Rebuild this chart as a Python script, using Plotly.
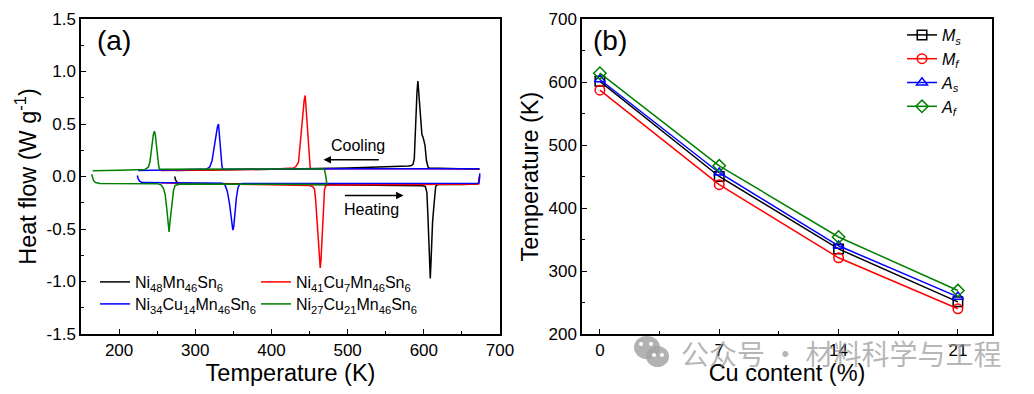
import plotly.graph_objects as go

W, H = 1034, 394
OFF = 8  # page body margin in the browser
FONT = "Liberation Sans, Arial, sans-serif"

# ---------------- Panel (a) data: DSC curves (T in K, heat flow in W/g) ----------------
ni48_heat_T = [273, 274, 276, 280, 350, 450, 550, 590, 598, 602, 604, 605.5, 607, 608.5, 609.5, 610.5, 611.5, 613, 614, 615.5, 617, 620, 650, 670, 672, 673]
ni48_heat_hf = [0.0, -0.03, -0.055, -0.065, -0.07, -0.075, -0.08, -0.085, -0.088, -0.095, -0.15, -0.4, -0.75, -0.97, -0.8, -0.55, -0.43, -0.3, -0.2, -0.1, -0.08, -0.077, -0.075, -0.072, -0.06, 0.0]
ni48_cool_T = [673, 640, 612, 607, 605.5, 603.5, 601.5, 600, 599, 597.5, 596, 594, 592.2, 591, 590, 588.5, 587.5, 586, 584, 580, 560, 540, 500, 400, 300, 274]
ni48_cool_hf = [0.07, 0.073, 0.075, 0.08, 0.09, 0.15, 0.3, 0.36, 0.375, 0.4, 0.55, 0.78, 0.91, 0.8, 0.62, 0.35, 0.17, 0.12, 0.105, 0.1, 0.095, 0.09, 0.082, 0.07, 0.062, 0.058]

cu7_heat_T = [255, 300, 400, 450, 454, 456.5, 458, 459.6, 461.5, 463, 464, 465, 466.5, 467.5, 468.5, 469.6, 471, 475, 600, 672, 673]
cu7_heat_hf = [-0.06, -0.07, -0.078, -0.085, -0.095, -0.12, -0.22, -0.39, -0.62, -0.8, -0.87, -0.8, -0.58, -0.39, -0.25, -0.13, -0.09, -0.08, -0.075, -0.072, 0.0]
cu7_cool_T = [673, 500, 455, 451.5, 450.8, 450, 449.5, 448.5, 447.8, 446, 444.3, 443, 441.5, 440, 438, 435.5, 432, 429, 400, 300, 255]
cu7_cool_hf = [0.075, 0.072, 0.07, 0.075, 0.09, 0.18, 0.26, 0.33, 0.44, 0.65, 0.772, 0.73, 0.6, 0.47, 0.3, 0.136, 0.095, 0.08, 0.068, 0.062, 0.058]

cu14_heat_T = [224, 225, 227, 230, 300, 335, 339, 342, 345, 347, 349.3, 350.5, 352, 354, 356, 358, 362, 500, 600, 670, 672, 673, 673.5]
cu14_heat_hf = [0.01, -0.02, -0.045, -0.058, -0.062, -0.065, -0.08, -0.14, -0.26, -0.4, -0.51, -0.48, -0.35, -0.2, -0.11, -0.075, -0.066, -0.068, -0.07, -0.072, -0.065, -0.03, 0.03]
cu14_cool_T = [673, 600, 500, 400, 345, 336, 335, 334, 333, 332, 330.5, 329, 327, 325, 322, 319, 315, 280, 240, 225]
cu14_cool_hf = [0.075, 0.076, 0.074, 0.07, 0.068, 0.07, 0.1, 0.2, 0.33, 0.44, 0.5, 0.47, 0.38, 0.26, 0.15, 0.09, 0.072, 0.065, 0.06, 0.058]

cu21_heat_T = [164, 165, 166.5, 169, 175, 250, 255, 258, 260.5, 262.5, 264.5, 265.6, 267, 268.5, 270, 271.5, 273.5, 280, 400, 472.7, 471.5, 469.5]
cu21_heat_hf = [0.022, -0.01, -0.04, -0.058, -0.066, -0.068, -0.08, -0.11, -0.17, -0.3, -0.47, -0.527, -0.42, -0.3, -0.22, -0.13, -0.085, -0.072, -0.074, -0.076, 0.0, 0.066]
cu21_cool_T = [469.5, 400, 300, 256, 253, 252, 251, 250.3, 249, 247.5, 246.3, 245, 242.8, 240.5, 238.5, 234, 200, 165.3]
cu21_cool_hf = [0.072, 0.07, 0.068, 0.067, 0.07, 0.1, 0.2, 0.235, 0.3, 0.4, 0.432, 0.4, 0.25, 0.14, 0.09, 0.067, 0.06, 0.054]

dsc_names = ["Ni<sub>48</sub>Mn<sub>46</sub>Sn<sub>6</sub>",
             "Ni<sub>41</sub>Cu<sub>7</sub>Mn<sub>46</sub>Sn<sub>6</sub>",
             "Ni<sub>34</sub>Cu<sub>14</sub>Mn<sub>46</sub>Sn<sub>6</sub>",
             "Ni<sub>27</sub>Cu<sub>21</sub>Mn<sub>46</sub>Sn<sub>6</sub>"]
dsc_colors = ["#000000", "#ff0000", "#0000ff", "#008000"]

a_yticks = [-1.5, -1.0, -0.5, 0.0, 0.5, 1.0, 1.5]
a_yticktext = ["-1.5", "-1.0", "-0.5", "0.0", "0.5", "1.0", "1.5"]

# ---------------- Panel (b) data ----------------
cu_content = [0, 7, 14, 21]
Ms = [601, 450, 335, 251]
Mf = [587, 437, 321, 240]
As = [604, 456, 340, 259]
Af = [614, 467, 354, 269]
b_names = ["<i>M</i><sub><i>s</i></sub>", "<i>M</i><sub><i>f</i></sub>",
           "<i>A</i><sub><i>s</i></sub>", "<i>A</i><sub><i>f</i></sub>"]
b_colors = ["#000000", "#ff0000", "#0000ff", "#008000"]
b_symbols = ["square-open", "circle-open", "triangle-up-open", "diamond-open"]

fig = go.Figure()

curves = [
    (ni48_heat_T, ni48_heat_hf, ni48_cool_T, ni48_cool_hf, "legend2"),
    (cu7_heat_T, cu7_heat_hf, cu7_cool_T, cu7_cool_hf, "legend2"),
    (cu14_heat_T, cu14_heat_hf, cu14_cool_T, cu14_cool_hf, "legend3"),
    (cu21_heat_T, cu21_heat_hf, cu21_cool_T, cu21_cool_hf, "legend3"),
]
for (hT, hY, cT, cY, lg), name, col in zip(curves, dsc_names, dsc_colors):
    fig.add_trace(go.Scatter(
        x=hT + [None] + cT, y=hY + [None] + cY, mode="lines",
        line=dict(color=col, width=1.5), name=name, legend=lg,
        xaxis="x", yaxis="y", connectgaps=False))

for vals, name, col, sym in zip([Ms, Mf, As, Af], b_names, b_colors, b_symbols):
    fig.add_trace(go.Scatter(
        x=cu_content, y=vals, mode="lines+markers", name=name, legend="legend",
        line=dict(color=col, width=1.5),
        marker=dict(symbol=sym, size=9.5, color=col, line=dict(color=col, width=1.5)),
        xaxis="x2", yaxis="y2"))

def px_x(p):
    return (p - OFF) / W

def px_y(p):
    return 1 - (p - OFF) / H

axis_common = dict(showline=True, linecolor="black", linewidth=1.5, mirror=True,
                   ticks="inside", ticklen=5, tickwidth=1.3, tickcolor="black",
                   showgrid=False, zeroline=False,
                   tickfont=dict(family=FONT, size=17, color="black"),
                   automargin=False)
title_font = dict(size=23.5, family=FONT, color="black")

fig.update_layout(
    width=W, height=H, margin=dict(l=0, r=0, t=0, b=0),
    paper_bgcolor="white", plot_bgcolor="white",
    font=dict(family=FONT, color="black"),
    xaxis=dict(domain=[px_x(81), px_x(500)], range=[150, 700], dtick=100, tick0=0,
               minor=dict(ticks="inside", ticklen=3, dtick=50, tick0=0, tickcolor="black", tickwidth=1.3),
               title=dict(text="Temperature (K)", font=title_font, standoff=0),
               anchor="y", **axis_common),
    yaxis=dict(domain=[px_y(334), px_y(19)], range=[-1.5, 1.5],
               tickvals=a_yticks, ticktext=a_yticktext,
               minor=dict(ticks="inside", ticklen=3, dtick=0.25, tick0=0, tickcolor="black", tickwidth=1.3),
               title=dict(text="Heat flow (W g<sup>-1</sup>)", font=title_font, standoff=3),
               anchor="x", **axis_common),
    xaxis2=dict(domain=[px_x(582), px_x(992)], range=[-1.05, 23], tickvals=cu_content,
                minor=dict(ticks="inside", ticklen=3, dtick=3.5, tick0=0, tickcolor="black", tickwidth=1.3),
                title=dict(text="Cu content (%)", font=title_font, standoff=0),
                anchor="y2", **axis_common),
    yaxis2=dict(domain=[px_y(334), px_y(19)], range=[200, 700], dtick=100, tick0=0,
                minor=dict(ticks="inside", ticklen=3, dtick=50, tick0=0, tickcolor="black", tickwidth=1.3),
                title=dict(text="Temperature (K)", font=title_font, standoff=3),
                anchor="x2", **axis_common),
    legend=dict(x=px_x(902), y=px_y(18), xanchor="left", yanchor="top",
                bgcolor="rgba(0,0,0,0)", font=dict(family=FONT, size=16),
                tracegroupgap=0),
    legend2=dict(x=px_x(95), y=px_y(282), xanchor="left", yanchor="middle",
                 orientation="h", entrywidth=116, bgcolor="rgba(0,0,0,0)",
                 font=dict(family=FONT, size=16)),
    legend3=dict(x=px_x(95), y=px_y(304), xanchor="left", yanchor="middle",
                 orientation="h", entrywidth=116, bgcolor="rgba(0,0,0,0)",
                 font=dict(family=FONT, size=16)),
    showlegend=True,
)

# panel labels and annotations
fig.add_annotation(x=px_x(114), y=px_y(40), xref="paper", yref="paper", text="(a)",
                   xanchor="center", yanchor="middle",
                   showarrow=False, font=dict(family=FONT, size=28, color="black"))
fig.add_annotation(x=px_x(610), y=px_y(40), xref="paper", yref="paper", text="(b)",
                   xanchor="center", yanchor="middle",
                   showarrow=False, font=dict(family=FONT, size=28, color="black"))
fig.add_annotation(x=513.5, y=0.296, xref="x", yref="y", text="Cooling", showarrow=False,
                   xanchor="center", yanchor="middle",
                   font=dict(family=FONT, size=16, color="black"))
fig.add_annotation(x=530.7, y=-0.315, xref="x", yref="y", text="Heating", showarrow=False,
                   xanchor="center", yanchor="middle",
                   font=dict(family=FONT, size=16, color="black"))
fig.add_annotation(x=468.3, y=0.159, ax=543, ay=0.159, xref="x", yref="y", axref="x", ayref="y",
                   text="", showarrow=True, arrowhead=2, arrowsize=1, arrowwidth=1.5, arrowcolor="black")
fig.add_annotation(x=573.4, y=-0.181, ax=494.6, ay=-0.181, xref="x", yref="y", axref="x", ayref="y",
                   text="", showarrow=True, arrowhead=2, arrowsize=1, arrowwidth=1.5, arrowcolor="black")

# watermark
fig.add_annotation(x=px_x(679), y=px_y(353), xref="paper", yref="paper", xanchor="left", yanchor="middle",
                   text="公众号 · 材料科学与工程", showarrow=False,
                   font=dict(family="Noto Sans CJK SC", size=28, color="rgba(150,150,150,0.7)"))
icon = [(634, 336, 660, 359, "rgba(165,165,165,0.85)"), (646, 346, 669, 367, "rgba(165,165,165,0.85)"),
        (639, 342, 643, 346, "white"), (649, 342, 653, 346, "white"),
        (652, 353, 656, 357, "white"), (660, 353, 664, 357, "white")]
for x0, y0, x1, y1, c in icon:
    fig.add_shape(type="circle", xref="paper", yref="paper", x0=px_x(x0), x1=px_x(x1),
                  y0=px_y(y1), y1=px_y(y0), fillcolor=c, line=dict(width=0), layer="above")

fig.write_html("out.html")
